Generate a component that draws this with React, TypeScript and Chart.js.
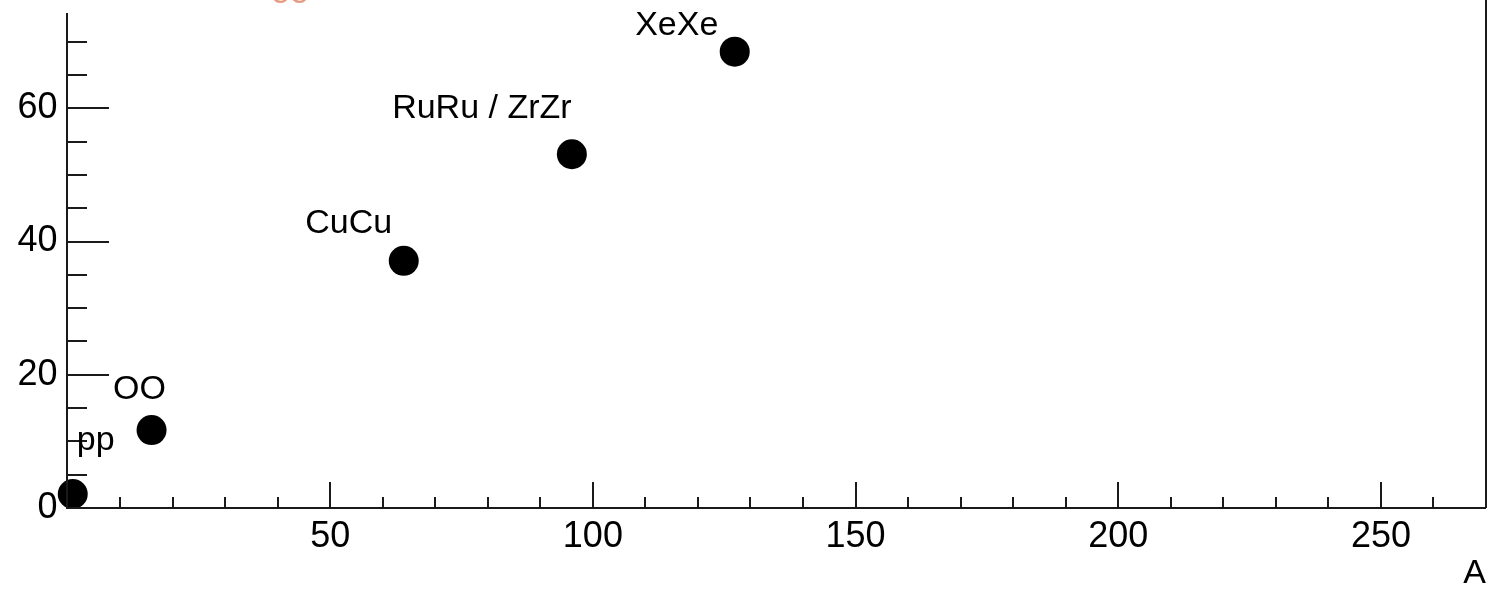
import React, { useEffect, useRef } from "react";
import { Chart, registerables } from "chart.js";

Chart.register(...registerables);

// ---- data ----
const systems = ["pp", "OO", "CuCu", "RuRu / ZrZr", "XeXe"];
const massNumbers = [1, 16, 64, 96, 127];
const values = [2.1, 11.7, 37.1, 53.1, 68.5];
const xTickLabels = [50, 100, 150, 200, 250];
const yTickLabels = [0, 20, 40, 60];

// label offsets (pixels) relative to point centre: [dx of text centre, dy of baseline]
const labelOffsets: [number, number][] = [
  [23, -44],
  [-12, -31],
  [-55, -28],
  [-90, -36],
  [-58, -17],
];

const FONT = "'Liberation Sans', Arial, Helvetica, sans-serif";

const framePlugin = {
  id: "rootFrame",
  afterDraw(chart: any) {
    const { ctx, chartArea, scales } = chart;
    const xs = scales.x;
    const ys = scales.y;
    const left = chartArea.left - 0.5;
    const bottom = chartArea.bottom;
    const right = chartArea.right;
    ctx.save();
    ctx.strokeStyle = "#1a1a1a";
    ctx.lineWidth = 2;
    ctx.beginPath();
    ctx.moveTo(left, chartArea.top);
    ctx.lineTo(left, bottom);
    ctx.lineTo(right, bottom);
    ctx.moveTo(right, 0);
    ctx.lineTo(right, bottom);
    ctx.stroke();
    ctx.beginPath();
    for (let v = 10; v < xs.max; v += 10) {
      const px = Math.round(xs.getPixelForValue(v));
      const len = v % 50 === 0 ? 26 : 11;
      ctx.moveTo(px, bottom);
      ctx.lineTo(px, bottom - len);
    }
    for (let v = 5; v < ys.max; v += 5) {
      const py = Math.round(ys.getPixelForValue(v));
      const len = v % 20 === 0 ? 42 : 20;
      ctx.moveTo(left, py);
      ctx.lineTo(left + len, py);
    }
    ctx.stroke();

    ctx.font = `34px ${FONT}`;
    ctx.fillStyle = "#000";
    ctx.textAlign = "center";
    ctx.textBaseline = "alphabetic";
    const meta = chart.getDatasetMeta(0);
    meta.data.forEach((pt: any, i: number) => {
      const off = labelOffsets[i] || [0, -30];
      ctx.fillText(systems[i], pt.x + off[0], pt.y + off[1]);
    });

    // cropped fragment at the top edge
    ctx.fillStyle = "#e59a80";
    ctx.fillText("oo", 290, 3);
    ctx.restore();
  },
};

export default function App() {
  const ref = useRef<HTMLCanvasElement | null>(null);

  useEffect(() => {
    document.body.style.margin = "0";
    const canvas = ref.current;
    if (!canvas) return;
    const chart = new Chart(canvas, {
      type: "scatter",
      data: {
        datasets: [
          {
            label: "systems",
            data: massNumbers.map((x, i) => ({ x, y: values[i] })),
            backgroundColor: "#000",
            borderWidth: 0,
            pointRadius: 15,
            pointHoverRadius: 15,
            clip: false,
          },
        ],
      },
      options: {
        animation: false,
        responsive: false,
        events: [],
        layout: { autoPadding: false, padding: { top: 13, right: 3, left: 0, bottom: 0 } },
        plugins: {
          legend: { display: false },
          tooltip: { enabled: false },
        },
        scales: {
          x: {
            type: "linear",
            min: 0,
            max: 270,
            grid: { display: false, drawTicks: false },
            border: { display: false },
            afterBuildTicks: (s: any) => {
              s.ticks = xTickLabels.map((v) => ({ value: v }));
            },
            afterFit: (s: any) => {
              s.height = 83;
              s.paddingLeft = 0;
              s.paddingRight = 0;
              s.paddingTop = 0;
              s.paddingBottom = 0;
            },
            ticks: {
              autoSkip: false,
              maxRotation: 0,
              padding: 7,
              color: "#000",
              font: { family: FONT, size: 36 },
            },
            title: {
              display: true,
              text: "A",
              align: "end",
              color: "#000",
              font: { family: FONT, size: 34 },
              padding: { top: 0, bottom: -3 },
            },
          },
          y: {
            type: "linear",
            min: 0,
            max: 74.3,
            grid: { display: false, drawTicks: false },
            border: { display: false },
            afterBuildTicks: (s: any) => {
              s.ticks = yTickLabels.map((v) => ({ value: v }));
            },
            afterFit: (s: any) => {
              s.width = 67.5;
              s.paddingLeft = 0;
              s.paddingRight = 0;
              s.paddingTop = 0;
              s.paddingBottom = 0;
            },
            ticks: {
              autoSkip: false,
              padding: 10,
              color: "#000",
              font: { family: FONT, size: 36 },
            },
          },
        },
      },
      plugins: [framePlugin],
    });
    return () => chart.destroy();
  }, []);

  return (
    <div style={{ position: "fixed", left: 0, top: 0, width: 1489, height: 591, background: "#fff" }}>
      <canvas ref={ref} width={1489} height={591} style={{ display: "block", width: 1489, height: 591 }} />
    </div>
  );
}
